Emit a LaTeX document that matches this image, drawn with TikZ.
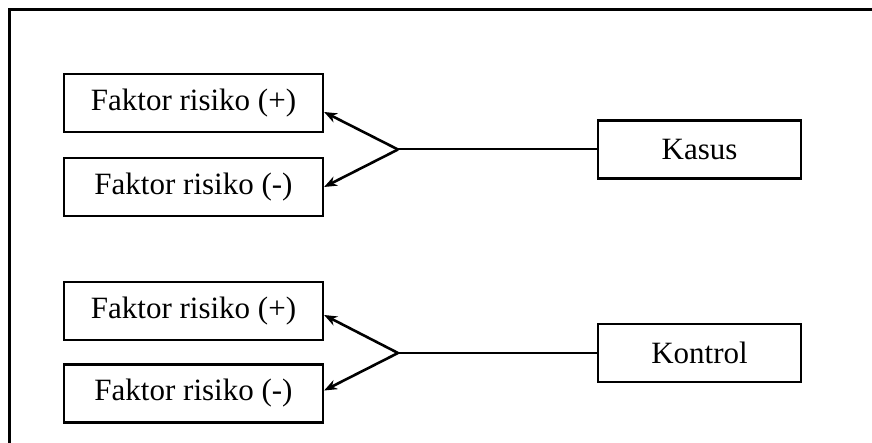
\documentclass[tikz,border=0pt]{standalone}
\usepackage{fontspec}
\setmainfont{Liberation Serif}
\usetikzlibrary{arrows.meta}
\begin{document}
\begin{tikzpicture}[x=1pt,y=-1pt,
  box/.style={draw,line width=2.2pt,minimum height=58pt,inner sep=0pt,
    font=\fontsize{31}{37}\selectfont},
  factor/.style={box,minimum width=259pt},
  group/.style={box,minimum width=203pt},
  link/.style={line width=2pt},
  branch/.style={line width=2.6pt,-{Stealth[length=13pt,width=10pt]}}]
  \useasboundingbox (0,0) rectangle (872,443);
  % outer frame (continues past the bottom and right edges)
  \draw[line width=3pt] (9,443) -- (9,10) -- (872,10);

  % upper group: cases
  \node[factor] (f1) at (193.5,103) {Faktor risiko (+)};
  \node[factor] (f2) at (193.5,187) {Faktor risiko (-)};
  \node[group]  (kasus) at (699.5,149.5) {Kasus};
  \coordinate (s1) at (398,149.5);
  \draw[link] (kasus.west) -- (s1);
  \draw[branch] (s1) -- ([yshift=-9pt]f1.east);
  \draw[branch] (s1) -- (f2.east);

  % lower group: controls
  \node[factor] (f3) at (193.5,311) {Faktor risiko (+)};
  \node[factor] (f4) at (193.5,393.5) {Faktor risiko (-)};
  \node[group]  (kontrol) at (699.5,353) {Kontrol};
  \coordinate (s2) at (398,353);
  \draw[link] (kontrol.west) -- (s2);
  \draw[branch] (s2) -- ([yshift=-4pt]f3.east);
  \draw[branch] (s2) -- ([yshift=3pt]f4.east);
\end{tikzpicture}
\end{document}
